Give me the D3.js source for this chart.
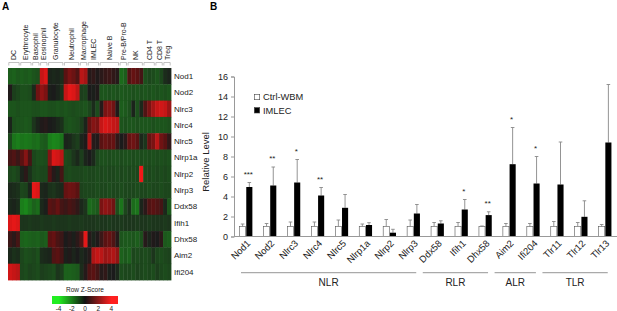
<!DOCTYPE html>
<html lang="en">
<head>
<meta charset="UTF-8">
<title>Heatmap and relative levels</title>
<script src="https://d3js.org/d3.v7.min.js"></script>
<style>
  body { margin: 0; background: #fff; }
  svg { display: block; font-family: Arial, "Liberation Sans", sans-serif; }
</style>
</head>
<body>
<div id="chart"></div>
<script>
// ---- panel A: heatmap data ----
var cellGroups = ["DC", "Erythrocyte", "Basophil", "Eosinophil", "Granulocyte", "Neutrophil", "Macrophage",
  "IMLEC", "Naive B", "Pre-B/Pro-B", "NK", "CD4 T", "CD8 T", "Treg"];
var groupSizes = [3, 3, 2, 2, 4, 4, 2, 3, 5, 2, 4, 3, 2, 2];
var heatGenes = ["Nod1", "Nod2", "Nlrc3", "Nlrc4", "Nlrc5", "Nlrp1a", "Nlrp2", "Nlrp3", "Ddx58", "Ifih1", "Dhx58", "Aim2", "Ifi204"];

var zNod1 = [-1.5,-1.6,-1.4,-1.5,-1.4,-1.5,-1.3,-1.2,3.2,3.6,-0.2,-0.3,-0.2,-0.4,1.2,1.8,1.5,1.0,3.0,2.6,0.2,0.4,0.1,0.3,0.5,0.6,0.4,0.2,-1.8,-1.5,1.0,1.4,1.2,0.8,-1.2,-1.0,-1.1,-1.3,-1.0,-0.4,-0.2];
var zNod2 = [0.1,-0.8,-1.0,-1.2,-1.2,-1.1,-0.3,1.6,2.2,1.8,-0.1,0.0,-0.2,-0.5,3.2,3.8,3.6,3.0,-0.8,-0.9,0.0,-0.1,0.1,-1.3,-1.3,-1.2,-1.3,-1.2,-1.4,-1.3,-1.3,-1.2,-1.3,-1.2,-1.3,-1.2,-1.3,-1.2,-1.3,-1.2,-1.3];
var zNlrc3 = [-1.3,-1.3,-1.2,-1.3,-1.3,-1.3,-1.2,-1.2,-1.3,-1.3,-1.2,-1.2,-1.3,-1.2,-1.3,-1.2,-1.1,-1.2,-1.2,-1.3,-1.0,-0.4,-1.1,0.2,1.8,2.0,1.6,0.1,-1.5,-1.4,-1.2,-0.2,-1.2,-0.3,1.0,1.8,2.6,3.2,3.4,3.2,2.4];
var zNlrc4 = [-0.2,-1.2,-1.3,-1.3,-1.4,-1.3,-0.6,-0.2,0.1,0.2,0.0,-0.1,-0.3,-0.5,-1.2,-1.3,-1.2,-1.1,-0.8,-0.2,1.4,2.0,1.8,3.2,3.6,3.4,3.2,3.0,-1.3,-1.2,-1.3,-1.3,-1.2,-1.3,-1.3,-1.3,-1.2,-1.3,-1.3,-1.3,-1.2];
var zNlrc5 = [-1.0,-2.0,-2.2,-2.0,-2.1,-2.0,-1.8,-1.9,-1.5,-1.4,-2.2,-2.4,-2.3,-2.0,-0.2,-0.3,-0.6,-0.8,-0.2,0.1,2.8,0.2,0.1,1.2,1.5,1.3,1.4,0.4,0.0,0.3,1.4,1.6,1.2,-0.3,-0.6,1.4,1.8,3.0,1.6,1.2,0.4];
var zNlrp1a = [0.8,1.0,0.6,1.2,2.0,0.8,-1.0,-1.2,-1.2,-1.1,2.0,3.6,3.4,3.0,-1.1,-1.0,-0.6,-0.3,-0.8,-0.2,0.0,-0.3,-1.0,-1.2,-1.2,-1.1,-1.2,-1.2,-1.1,-1.2,-1.2,-1.1,-1.2,-1.1,-1.2,-1.1,-1.2,-1.1,-1.2,-1.1,-1.2];
var zNlrp2 = [-1.0,-1.1,-0.9,-0.2,0.3,-0.5,-1.0,-1.1,-1.0,-1.0,1.0,0.2,-0.2,0.8,-1.0,-1.1,-1.0,-1.0,-1.0,-1.1,-1.0,-1.0,-1.1,-1.0,-1.1,-1.0,-1.0,-1.1,-1.0,-1.1,-1.0,-1.1,-1.0,4.0,-1.1,-1.0,-1.1,-1.0,-1.1,-1.0,-1.1];
var zNlrp3 = [-0.3,-0.4,-0.5,-1.0,-0.9,-0.2,3.8,3.6,-0.3,-0.2,-0.5,-0.6,-0.4,-0.3,1.4,1.6,1.5,1.2,-0.9,-1.0,-1.0,-1.0,-1.1,-1.0,-1.0,-1.1,-1.0,-1.0,-1.1,-1.0,-1.0,-1.0,-1.1,-1.0,-1.0,-1.1,-1.0,-1.0,-1.1,-1.0,-1.0];
var zDdx58 = [-0.3,-0.2,-0.4,-2.2,-2.4,-2.0,-1.6,-1.8,-0.3,-0.1,1.2,1.0,1.4,0.8,0.6,0.9,0.7,0.4,-0.3,-0.6,-1.8,-1.6,-1.4,1.8,2.2,2.0,1.6,-1.2,-2.0,-1.0,-0.5,-1.8,-2.0,-0.2,0.3,1.0,1.2,1.0,0.8,-0.3,-1.4];
var zIfih1 = [3.6,3.8,3.6,-0.6,-0.6,-0.7,-0.6,-0.6,-0.7,-0.6,-0.6,-0.7,-0.6,-0.6,-0.6,-0.7,-0.6,-0.6,-0.7,-0.6,-0.6,-0.6,-0.7,-0.6,-0.6,-0.7,-0.6,-0.6,-0.7,-0.6,-0.6,-0.6,-0.7,-0.6,-0.6,-0.7,-0.6,-0.6,-0.6,-0.7,-0.6];
var zDhx58 = [0.6,0.3,0.8,-1.6,-1.7,-1.6,-1.5,-1.6,-1.4,-1.5,1.2,1.4,0.9,0.6,0.0,0.2,-0.1,0.3,1.0,3.8,0.2,-0.2,0.1,0.6,1.2,1.4,1.0,0.2,-1.3,-1.4,-1.4,-1.3,-1.5,-1.2,0.2,-0.2,0.1,0.0,0.3,-1.4,-1.5];
var zAim2 = [-0.3,-0.5,-0.4,-1.0,-1.2,-1.1,-1.0,-1.2,-0.4,-0.3,-0.2,1.0,1.2,0.8,-0.1,0.1,-0.2,0.0,-0.3,-0.1,0.2,2.8,3.2,3.0,2.4,2.6,2.8,2.2,-1.6,-1.4,-1.6,-1.0,-1.1,-1.0,-1.1,-1.0,-0.6,-1.0,-1.1,-1.0,-0.9];
var zIfi204 = [3.4,3.2,3.0,-1.0,-1.1,-0.9,-1.0,-1.1,-0.8,-0.9,-1.0,-1.1,-0.6,-0.8,-1.6,-1.6,-1.5,-1.4,-0.4,0.2,1.0,1.2,0.8,0.2,0.4,-0.1,0.0,-0.3,-1.1,-1.0,-1.0,-1.1,-0.9,-1.0,-1.1,-1.0,-1.1,-0.8,-1.0,-1.1,-1.0];
var heatRows = [zNod1, zNod2, zNlrc3, zNlrc4, zNlrc5, zNlrp1a, zNlrp2, zNlrp3, zDdx58, zIfih1, zDhx58, zAim2, zIfi204];
var legendTicks = [-4, -2, 0, 2, 4];

// ---- panel B: bar chart data ----
var barGenes = ["Nod1", "Nod2", "Nlrc3", "Nlrc4", "Nlrc5", "Nlrp1a", "Nlrp2", "Nlrp3", "Ddx58", "Ifih1", "Dhx58", "Aim2", "Ifi204", "Tlr11", "Tlr12", "Tlr13"];
var seriesNames = ["Ctrl-WBM", "IMLEC"];
var ctrlMean = [1, 1, 1, 1, 1, 1, 1, 1, 1, 1, 1, 1, 1, 1, 1, 1];
var ctrlErr = [0.25, 0.3, 0.45, 0.45, 0.65, 0.25, 0.7, 0.65, 0.4, 0.4, 0.05, 0.3, 0.3, 0.5, 0.4, 0.2];
var imlecMean = [4.95, 5.1, 5.4, 4.1, 2.87, 1.15, 0.38, 2.3, 1.3, 2.7, 2.14, 7.23, 5.3, 5.2, 1.97, 9.4];
var imlecErr = [0.45, 1.85, 2.3, 0.8, 1.33, 0.23, 0.34, 0.9, 0.27, 1.0, 0.33, 3.67, 2.7, 4.25, 1.6, 5.8];
var stars = ["***", "**", "*", "**", "", "", "", "", "", "*", "**", "*", "*", "", "", ""];
var families = ["NLR", "RLR", "ALR", "TLR"];
var familySizes = [8, 3, 2, 3];
var yTicks = [0, 2, 4, 6, 8, 10, 12, 14, 16];

var W = 617, H = 311;
var svg = d3.select("#chart").append("svg").attr("width", W).attr("height", H);

// panel letters
svg.append("text").attr("x", 2).attr("y", 10).attr("font-size", 10).attr("font-weight", "bold").text("A");
svg.append("text").attr("x", 210).attr("y", 10).attr("font-size", 10).attr("font-weight", "bold").text("B");

// ================= heatmap =================
var nCols = d3.sum(groupSizes);
var hx = d3.scaleLinear().domain([0, nCols]).range([8, 171]);
var hy = d3.scaleBand().domain(heatGenes).range([68, 280]);
// muted ramp: the heatmap greens are dull, the key is brighter at its ends
var zColor = d3.scaleLinear().domain([-4, -1.2, 0, 1.2, 4])
  .range(["#19d019", "#1c4f1c", "#1b1b1b", "#5a1212", "#f01818"]).clamp(true);

var cells = [];
heatRows.forEach(function (row, r) {
  row.forEach(function (v, c) { cells.push({ gene: heatGenes[r], col: c, z: v }); });
});

svg.append("g").selectAll("rect").data(cells).enter().append("rect")
  .attr("x", d => hx(d.col))
  .attr("y", d => hy(d.gene))
  .attr("width", hx(1) - hx(0) + 0.4)
  .attr("height", hy.bandwidth() + 0.4)
  .attr("fill", d => zColor(d.z));

// gene labels on the right
svg.append("g").selectAll("text").data(heatGenes).enter().append("text")
  .attr("x", 174)
  .attr("y", d => hy(d) + hy.bandwidth() / 2)
  .attr("dy", "0.35em")
  .attr("font-size", 8)
  .attr("fill", "#222")
  .text(d => d);

// cell-type brackets and labels
var starts = [];
var acc = 0;
groupSizes.forEach(function (n) { starts.push(acc); acc += n; });
var brk = svg.append("g");
cellGroups.forEach(function (g, i) {
  var xa = hx(starts[i]) + 0.8, xb = hx(starts[i] + groupSizes[i]) - 0.8;
  brk.append("path")
    .attr("d", "M" + xa + ",65.5V62.5H" + xb + "V65.5")
    .attr("fill", "none").attr("stroke", "#999").attr("stroke-width", 0.6);
  var cx = (hx(starts[i]) + hx(starts[i] + groupSizes[i])) / 2;
  brk.append("text")
    .attr("transform", "translate(" + (cx + 2.5) + ",60) rotate(-90)")
    .attr("font-size", 7)
    .attr("fill", "#222")
    .text(g);
});

// colour key
var lx = d3.scaleLinear().domain([-5, 5]).range([52, 118]);
var keyColor = d3.scaleLinear().domain([-4, 0, 4]).range(["#22ee22", "#111", "#ff2020"]).clamp(true);
var grad = svg.append("defs").append("linearGradient").attr("id", "zgrad");
d3.range(-5, 5.01, 0.5).forEach(function (v) {
  grad.append("stop").attr("offset", (v + 5) / 10).attr("stop-color", keyColor(v));
});
svg.append("text").attr("x", 85).attr("y", 292).attr("text-anchor", "middle")
  .attr("font-size", 6.5).attr("fill", "#222").text("Row Z-Score");
svg.append("rect").attr("x", lx(-5)).attr("y", 296).attr("width", lx(5) - lx(-5)).attr("height", 8)
  .attr("fill", "url(#zgrad)");
svg.append("g").selectAll("text").data(legendTicks).enter().append("text")
  .attr("x", d => lx(d)).attr("y", 310.5).attr("text-anchor", "middle")
  .attr("font-size", 6.5).attr("fill", "#222").text(d => d);

// ================= bar chart =================
var x0 = d3.scaleBand().domain(barGenes).range([234, 617]).paddingInner(0.44).paddingOuter(0.22);
var x1 = d3.scaleBand().domain(seriesNames).range([0, x0.bandwidth()]);
var y = d3.scaleLinear().domain([0, 16]).range([236.5, 76.5]);

var yAxis = svg.append("g").attr("transform", "translate(234,0)")
  .call(d3.axisLeft(y).tickValues(yTicks).tickSize(3).tickPadding(3));
yAxis.selectAll("text").attr("font-size", 9).attr("fill", "#222").attr("font-family", "Arial, 'Liberation Sans', sans-serif");
yAxis.selectAll("line, path").attr("stroke", "#999");

svg.append("text")
  .attr("transform", "translate(209,162) rotate(-90)")
  .attr("text-anchor", "middle").attr("font-size", 9.5).attr("fill", "#222")
  .text("Relative Level");

var rows = barGenes.map(function (g, i) {
  return { gene: g, vals: [
    { s: "Ctrl-WBM", m: ctrlMean[i], e: ctrlErr[i] },
    { s: "IMLEC", m: imlecMean[i], e: imlecErr[i] }
  ], star: stars[i] };
});

var gg = svg.append("g").selectAll("g").data(rows).enter().append("g")
  .attr("transform", d => "translate(" + x0(d.gene) + ",0)");

// error bars (upper only), drawn under the bars
gg.selectAll("g.err").data(d => d.vals).enter().append("g").attr("class", "err")
  .each(function (d) {
    var cx = x1(d.s) + x1.bandwidth() / 2;
    var g = d3.select(this);
    g.append("line").attr("x1", cx).attr("x2", cx).attr("y1", y(d.m)).attr("y2", y(d.m + d.e))
      .attr("stroke", "#888").attr("stroke-width", 0.9);
    g.append("line").attr("x1", cx - 1.8).attr("x2", cx + 1.8).attr("y1", y(d.m + d.e)).attr("y2", y(d.m + d.e))
      .attr("stroke", "#888").attr("stroke-width", 0.9);
  });

gg.selectAll("rect").data(d => d.vals).enter().append("rect")
  .attr("x", d => x1(d.s) + 0.3)
  .attr("y", d => y(d.m))
  .attr("width", x1.bandwidth() - 0.6)
  .attr("height", d => y(0) - y(d.m))
  .attr("fill", d => d.s === "IMLEC" ? "#000" : "#fff")
  .attr("stroke", d => d.s === "IMLEC" ? "none" : "#555")
  .attr("stroke-width", 0.6);

// significance stars above IMLEC bars
gg.append("text")
  .attr("x", x1("IMLEC") + x1.bandwidth() / 2 - 1)
  .attr("y", d => y(d.vals[1].m + d.vals[1].e) - 6)
  .attr("text-anchor", "middle").attr("font-size", 8).attr("fill", "#222")
  .text(d => d.star);

// x axis line
svg.append("line").attr("x1", 234).attr("x2", 617).attr("y1", y(0)).attr("y2", y(0))
  .attr("stroke", "#999");

// rotated gene labels
gg.append("text")
  .attr("transform", "translate(" + (x0.bandwidth() / 2 + 5) + ",244) rotate(-45)")
  .attr("text-anchor", "end").attr("font-size", 9.5).attr("fill", "#222")
  .text(d => d.gene);

// family lines and labels
var fStart = 0;
families.forEach(function (f, i) {
  var first = barGenes[fStart], last = barGenes[fStart + familySizes[i] - 1];
  var a = Math.max(x0(first) - 8, 241), b = Math.min(x0(last) + x0.bandwidth() - 4, 615);
  svg.append("line").attr("x1", a).attr("x2", b).attr("y1", 272.7).attr("y2", 272.7)
    .attr("stroke", "#aaa").attr("stroke-width", 1.3);
  svg.append("text").attr("x", (a + b) / 2).attr("y", 286).attr("text-anchor", "middle")
    .attr("font-size", 10).attr("fill", "#222").text(f);
  fStart += familySizes[i];
});

// legend
var leg = svg.append("g").attr("transform", "translate(254,94)");
seriesNames.forEach(function (s, i) {
  leg.append("rect").attr("x", 0.3).attr("y", i * 13.3 + 0.3).attr("width", 5.4).attr("height", 5.4)
    .attr("fill", i === 1 ? "#000" : "#fff").attr("stroke", "#444").attr("stroke-width", 0.6);
  leg.append("text").attr("x", 9).attr("y", i * 13.3 + 3).attr("dy", "0.35em")
    .attr("font-size", 9.3).attr("fill", "#222").text(s);
});
</script>
</body>
</html>
